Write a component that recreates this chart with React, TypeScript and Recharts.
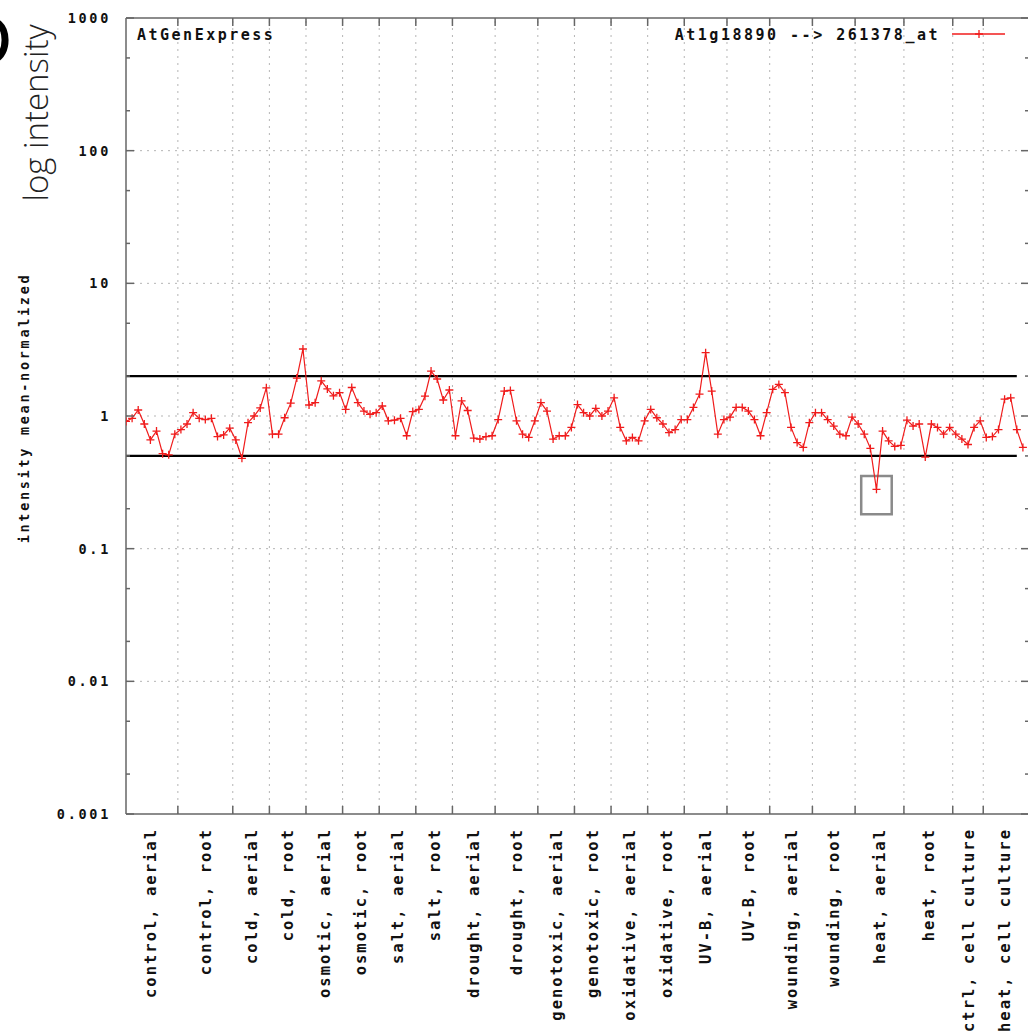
import React from "react";
import { LineChart, Line, XAxis, YAxis, ReferenceLine, ReferenceArea } from "recharts";

// experiment groups along the x axis
const groupLabels = [
  "control, aerial", "control, root", "cold, aerial", "cold, root",
  "osmotic, aerial", "osmotic, root", "salt, aerial", "salt, root",
  "drought, aerial", "drought, root", "genotoxic, aerial", "genotoxic, root",
  "oxidative, aerial", "oxidative, root", "UV-B, aerial", "UV-B, root",
  "wounding, aerial", "wounding, root", "heat, aerial", "heat, root",
  "ctrl, cell culture", "heat, cell culture",
];

// mean-normalized intensity of 261378_at, one array per experiment
const controlAerial = [0.91, 0.96, 1.11, 0.87, 0.66, 0.77, 0.52, 0.51, 0.73];
const controlRoot = [0.79, 0.87, 1.06, 0.96, 0.94, 0.96, 0.7, 0.72, 0.81];
const coldAerial = [0.66, 0.48, 0.89, 1.0, 1.15, 1.63];
const coldRoot = [0.73, 0.73, 0.97, 1.25, 1.93, 3.2];
const osmoticAerial = [1.21, 1.26, 1.84, 1.6, 1.42, 1.5];
const osmoticRoot = [1.12, 1.64, 1.26, 1.09, 1.03, 1.06];
const saltAerial = [1.19, 0.92, 0.93, 0.96, 0.71, 1.08];
const saltRoot = [1.12, 1.41, 2.18, 1.9, 1.32, 1.57];
const droughtAerial = [0.71, 1.3, 1.1, 0.68, 0.67, 0.7, 0.71];
const droughtRoot = [0.94, 1.54, 1.56, 0.92, 0.73, 0.69, 0.92];
const genotoxicAerial = [1.26, 1.09, 0.67, 0.71, 0.71, 0.82];
const genotoxicRoot = [1.22, 1.06, 1.0, 1.14, 1.0, 1.09];
const oxidativeAerial = [1.37, 0.82, 0.65, 0.69, 0.65, 0.92];
const oxidativeRoot = [1.12, 0.97, 0.87, 0.75, 0.79, 0.94];
const uvbAerial = [0.94, 1.16, 1.46, 3.0, 1.54, 0.73, 0.94];
const uvbRoot = [0.98, 1.16, 1.16, 1.09, 0.94, 0.71, 1.06];
const woundingAerial = [1.59, 1.73, 1.5, 0.82, 0.63, 0.58, 0.89];
const woundingRoot = [1.06, 1.06, 0.94, 0.84, 0.73, 0.71, 0.98];
const heatAerial = [0.87, 0.73, 0.57, 0.28, 0.77, 0.65, 0.59, 0.6];
const heatRoot = [0.93, 0.84, 0.87, 0.49, 0.87, 0.82, 0.73, 0.82];
const ctrlCellCulture = [0.73, 0.67, 0.61, 0.82, 0.92];
const heatCellCulture = [0.69, 0.7, 0.79, 1.34, 1.37, 0.79, 0.58];

const groupValues = [
  controlAerial, controlRoot, coldAerial, coldRoot, osmoticAerial, osmoticRoot,
  saltAerial, saltRoot, droughtAerial, droughtRoot, genotoxicAerial, genotoxicRoot,
  oxidativeAerial, oxidativeRoot, uvbAerial, uvbRoot, woundingAerial, woundingRoot,
  heatAerial, heatRoot, ctrlCellCulture, heatCellCulture,
];

const yMajor = [0.001, 0.01, 0.1, 1, 10, 100, 1000];
const yMinor = [0.002, 0.005, 0.02, 0.05, 0.2, 0.5, 2, 5, 20, 50, 200, 500];
const cutoffs = [0.5, 2];

const RED = "#f01c1c";
const AXIS = "#666";
const GRID = "#b5b5b5";
const MONO = "'DejaVu Sans Mono', monospace";

const rows = groupValues.flat().map((v, i) => ({ i, v }));
const total = rows.length;

// group boundaries (grid lines) and group centres (labels)
const bounds: number[] = [];
const centers: number[] = [];
let start = 0;
groupValues.forEach((g) => {
  centers.push(start + (g.length - 1) / 2);
  start += g.length;
  if (start < total) bounds.push(start - 0.5);
});

const minRow = rows.reduce((a, b) => (b.v < a.v ? b : a));

// gnuplot style: tick marks point into the plot from every border
const renderBottomTick = ({ x, y }: any) => (
  <line x1={x} y1={y} x2={x} y2={y - 8} stroke={AXIS} strokeWidth={1.5} />
);

const renderTopTick = ({ x, y }: any) => (
  <line x1={x} y1={y} x2={x} y2={y + 8} stroke={AXIS} strokeWidth={1.5} />
);

const renderLeftTick = ({ x, y, payload }: any) => {
  const major = yMajor.includes(payload.value);
  return (
    <g>
      <line x1={x} y1={y} x2={x + (major ? 8 : 4)} y2={y} stroke={AXIS} strokeWidth={1.5} />
      {major && (
        <text x={x - 15} y={y} dy="0.36em" textAnchor="end" fontFamily={MONO} fontWeight="bold"
          fontSize={13.5} letterSpacing={2.7} fill="#111">
          {String(payload.value)}
        </text>
      )}
    </g>
  );
};

const renderRightTick = ({ x, y, payload }: any) => {
  const major = yMajor.includes(payload.value);
  return <line x1={x} y1={y} x2={x - (major ? 8 : 4)} y2={y} stroke={AXIS} strokeWidth={1.5} />;
};

const renderCategoryTick = ({ x, y, index }: any) => {
  const ty = y + 13;
  return (
    <text x={x} y={ty} dy="0.36em" transform={`rotate(-90, ${x}, ${ty})`} textAnchor="end"
      fontFamily={MONO} fontWeight="bold" fontSize={15.5} letterSpacing={2} fill="#111">
      {groupLabels[index]}
    </text>
  );
};

const renderPlus = ({ cx, cy, index }: any) => (
  <path key={index} d={`M${cx - 4},${cy}h8M${cx},${cy - 4}v8`} stroke={RED} strokeWidth={1.3} fill="none" />
);

export default function App() {
  return (
    <div style={{ position: "absolute", left: 0, top: 0, width: 1028, height: 1033, overflow: "hidden", background: "#fff" }}>
      <LineChart width={1040} height={1033} data={rows} margin={{ top: 17, right: 10, bottom: 217, left: 125 }}>
        <XAxis dataKey="i" type="number" domain={[0, total]} ticks={bounds} interval={0} height={1}
          tickSize={0} tickMargin={0} tick={renderBottomTick} allowDataOverflow
          axisLine={{ stroke: AXIS, strokeWidth: 1.5 }} />
        <XAxis xAxisId="labels" dataKey="i" type="number" domain={[0, total]} ticks={centers} interval={0}
          height={1} tickSize={0} tickMargin={0} tickLine={false} axisLine={false} tick={renderCategoryTick} />
        <XAxis xAxisId="top" orientation="top" dataKey="i" type="number" domain={[0, total]} ticks={bounds}
          interval={0} height={1} tickSize={0} tickMargin={0} tick={renderTopTick}
          axisLine={{ stroke: AXIS, strokeWidth: 1.5 }} />
        <YAxis scale="log" domain={[0.001, 1000]} ticks={[...yMajor, ...yMinor]} interval={0} width={1}
          tickSize={0} tickMargin={0} tick={renderLeftTick} allowDataOverflow
          axisLine={{ stroke: AXIS, strokeWidth: 1.5 }} />
        <YAxis yAxisId="right" orientation="right" scale="log" domain={[0.001, 1000]} ticks={[...yMajor, ...yMinor]}
          interval={0} width={1} tickSize={0} tickMargin={0} tick={renderRightTick} allowDataOverflow
          axisLine={{ stroke: AXIS, strokeWidth: 1.5 }} />

        {bounds.map((b) => (
          <ReferenceLine key={`gx${b}`} x={b} stroke={GRID} strokeDasharray="2 5" />
        ))}
        {yMajor.slice(1, -1).map((m) => (
          <ReferenceLine key={`gy${m}`} y={m} stroke={GRID} strokeDasharray="2 5" />
        ))}
        {cutoffs.map((c) => (
          <ReferenceLine key={`c${c}`} segment={[{ x: 0, y: c }, { x: total - 2, y: c }]} stroke="#000" strokeWidth={2.2} />
        ))}

        <Line type="linear" dataKey="v" stroke={RED} strokeWidth={1.2} dot={renderPlus} activeDot={false}
          isAnimationActive={false} />

        <ReferenceArea x1={minRow.i - 2.5} x2={minRow.i + 2.5} y1={minRow.v * 0.65} y2={minRow.v * 1.26}
          fill="none" stroke="#8a8a8a" strokeWidth={2.5} />
      </LineChart>

      <svg width={1028} height={1033} style={{ position: "absolute", left: 0, top: 0, pointerEvents: "none" }}>
        <text x={-42} y={66} fontFamily="'Liberation Sans', Arial, sans-serif" fontSize={75} fill="#000">D</text>
        <text x={48} y={113} transform="rotate(-90, 48, 113)" textAnchor="middle"
          fontFamily="'Open Sans', sans-serif" fontWeight={300} fontSize={33} fill="#222">
          log intensity
        </text>
        <text x={24} y={408} dy="0.36em" transform="rotate(-90, 24, 408)" textAnchor="middle"
          fontFamily={MONO} fontWeight="bold" fontSize={13.5} letterSpacing={2.7} fill="#111">
          intensity mean-normalized
        </text>
        <text x={137} y={40} fontFamily={MONO} fontWeight="bold" fontSize={15} letterSpacing={2.5} fill="#111">
          AtGenExpress
        </text>
        <text x={940} y={40} textAnchor="end" fontFamily={MONO} fontWeight="bold" fontSize={15}
          letterSpacing={2.5} fill="#111">
          At1g18890 --&gt; 261378_at
        </text>
        <line x1={952} y1={34} x2={1005} y2={34} stroke={RED} strokeWidth={1.3} />
        <path d="M975,34h8M979,30v8" stroke={RED} strokeWidth={1.3} fill="none" />
      </svg>
    </div>
  );
}
